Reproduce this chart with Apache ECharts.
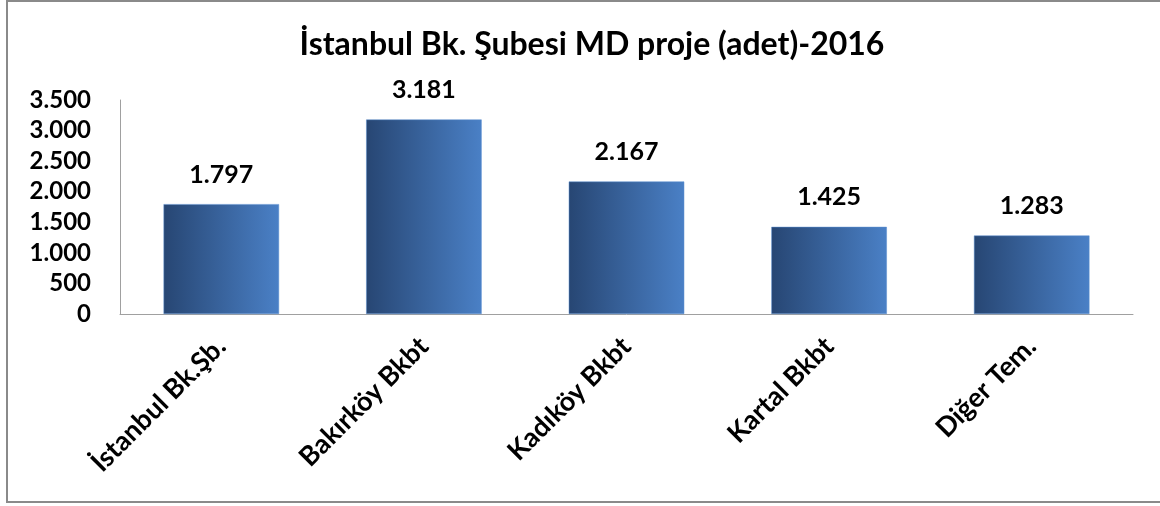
<!DOCTYPE html>
<html><head><meta charset="utf-8">
<script src="https://cdn.jsdelivr.net/npm/echarts@6/dist/echarts.min.js"></script>
<style>html,body{margin:0;padding:0;background:#fff}#c{width:1160px;height:506px}</style>
</head><body><div id="c"></div>
<script>
const titleText = 'İstanbul Bk. Şubesi MD proje (adet)-2016';
const categories = ['İstanbul Bk.Şb.', 'Bakırköy Bkbt', 'Kadıköy Bkbt', 'Kartal Bkbt', 'Diğer Tem.'];
const values = [1797, 3181, 2167, 1425, 1283];
const yMin = 0, yMax = 3500, yStep = 500;

const fmt = v => String(v).replace(/\B(?=(\d{3})+(?!\d))/g, '.');
const FONT = 'Lato';
const chart = echarts.init(document.getElementById('c'));
chart.setOption({
  animation: false,
  backgroundColor: '#fff',
  textStyle: { fontFamily: FONT },
  title: {
    text: titleText, left: 587, textAlign: 'center', top: 24,
    textStyle: { fontFamily: FONT, fontWeight: 'bold', fontSize: 32, color: '#000' }
  },
  graphic: [{
    type: 'rect', shape: { x: 7, y: 1, width: 1170, height: 501 },
    style: { fill: 'none', stroke: '#8a8a8a', lineWidth: 2 }, silent: true, z: 100
  }],
  grid: { left: 120, right: 27, top: 100, bottom: 192 },
  xAxis: {
    type: 'category', data: categories,
    axisLine: { lineStyle: { color: '#a0a0a0', width: 1 } },
    axisTick: { show: false },
    axisLabel: { rotate: 45, margin: 28, interval: 0, fontFamily: FONT, fontWeight: 'bold', fontSize: 27, color: '#000' }
  },
  yAxis: {
    type: 'value', min: yMin, max: yMax, interval: yStep,
    axisLine: { show: true, lineStyle: { color: '#a0a0a0', width: 1 } },
    axisTick: { show: false },
    splitLine: { show: false },
    axisLabel: { margin: 29, formatter: v => fmt(v), fontFamily: FONT, fontWeight: 'bold', fontSize: 24, color: '#000' }
  },
  series: [{
    type: 'bar', data: values, barWidth: '57%',
    itemStyle: {
      color: new echarts.graphic.LinearGradient(0, 0, 1, 0, [
        { offset: 0, color: '#274673' }, { offset: 1, color: '#4a80c6' }
      ]),
      borderColor: '#5b8fd0', borderWidth: 0.5
    },
    label: {
      show: true, position: 'top', distance: 17, formatter: p => fmt(p.value),
      fontFamily: FONT, fontWeight: 'bold', fontSize: 25, color: '#000'
    }
  }]
});
</script></body></html>
